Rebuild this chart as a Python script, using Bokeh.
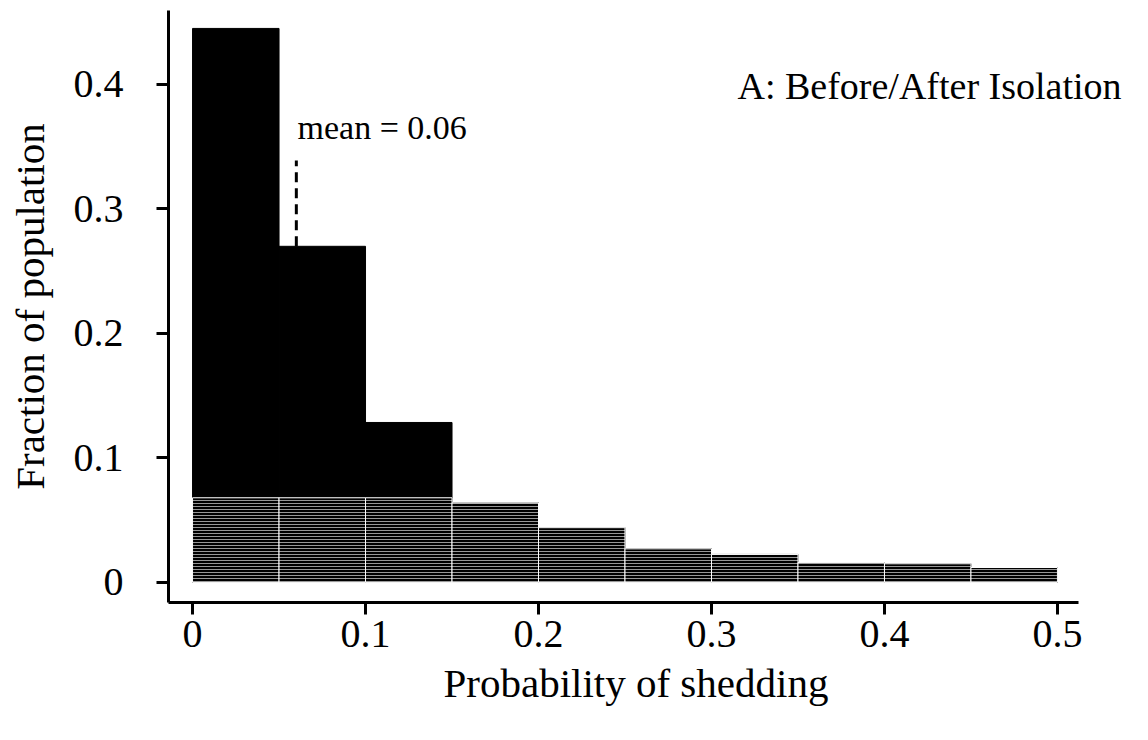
from bokeh.plotting import figure
from bokeh.models import Range1d, FixedTicker, CustomJSTickFormatter, Label, ColumnDataSource, Title
from bokeh.embed import file_html
from bokeh.resources import INLINE

# ---- data ----
bin_left = [0.00, 0.05, 0.10, 0.15, 0.20, 0.25, 0.30, 0.35, 0.40, 0.45]
bin_right = [0.05, 0.10, 0.15, 0.20, 0.25, 0.30, 0.35, 0.40, 0.45, 0.50]
fraction = [0.445, 0.270, 0.1285, 0.064, 0.044, 0.027, 0.0225, 0.016, 0.015, 0.012]
mean_value = 0.06
mean_line_top = 0.339
x_ticks = [0, 0.1, 0.2, 0.3, 0.4, 0.5]
y_ticks = [0, 0.1, 0.2, 0.3, 0.4]
mean_text = "mean = 0.06"
panel_text = "A: Before/After Isolation"
x_title = "Probability of shedding"
y_title = "Fraction of population"

FONT = "Liberation Serif"
STREAK_LEVEL = 0.068
X_AXIS_END = 0.5121

p = figure(width=1147, height=728, output_backend="svg", toolbar_location=None,
           x_range=Range1d(-0.0139, 0.5509), y_range=Range1d(-0.0161, 0.4594),
           min_border_left=168, min_border_top=10, min_border_right=2, min_border_bottom=126,
           frame_width=977, frame_height=592)
p.outline_line_color = None
p.xgrid.visible = False
p.ygrid.visible = False
p.background_fill_color = "white"
p.border_fill_color = "white"

src = ColumnDataSource(dict(left=bin_left, right=bin_right, top=fraction,
                            streak=[min(v, STREAK_LEVEL) for v in fraction]))
p.quad(left="left", right="right", bottom=0, top="top", source=src,
       fill_color="black", line_color="black", line_width=1)
p.quad(left="left", right="right", bottom=0, top="streak", source=src,
       fill_color="black", line_color="white", line_width=1,
       hatch_pattern="horizontal_line", hatch_color="#bdbdbd", hatch_weight=1,
       hatch_scale=3, hatch_alpha=0.8)

p.segment(x0=[mean_value], y0=[fraction[1]], x1=[mean_value], y1=[mean_line_top],
          line_color="black", line_width=3, line_dash="10 6")

p.add_layout(Label(x=0.0607, y=0.3655, text=mean_text, text_font=FONT,
                   text_font_size="34px", text_baseline="middle", text_color="black"))
p.add_layout(Label(x=0.315, y=0.399, text=panel_text, text_font=FONT,
                   text_font_size="38px", text_baseline="middle", text_color="black"))

fmt = CustomJSTickFormatter(code="return tick == 0 ? '0' : tick.toFixed(1);")
for ax, ticks in ((p.xaxis[0], x_ticks), (p.yaxis[0], y_ticks)):
    ax.ticker = FixedTicker(ticks=ticks)
    ax.formatter = fmt
    ax.minor_tick_line_color = None
    ax.major_tick_in = 0
    ax.major_tick_out = 12
    ax.major_tick_line_width = 3
    ax.axis_line_width = 3
    ax.major_label_text_font = FONT
    ax.major_label_text_font_size = "40px"
    ax.major_label_text_color = "black"
    ax.axis_label_text_font = FONT
    ax.axis_label_text_font_size = "41px"
    ax.axis_label_text_font_style = "normal"
    ax.axis_label_text_color = "black"

p.xaxis.bounds = (-0.0139, X_AXIS_END)
p.xaxis.major_label_standoff = 6
p.yaxis.axis_label = y_title
p.yaxis.major_label_standoff = 33
p.yaxis.axis_label_standoff = 18

p.add_layout(Title(text=x_title, align="left", offset=275, text_font=FONT,
                   text_font_size="41px", text_font_style="normal",
                   text_color="black", standoff=17), "below")

open("out.html", "w").write(file_html(p, INLINE))
